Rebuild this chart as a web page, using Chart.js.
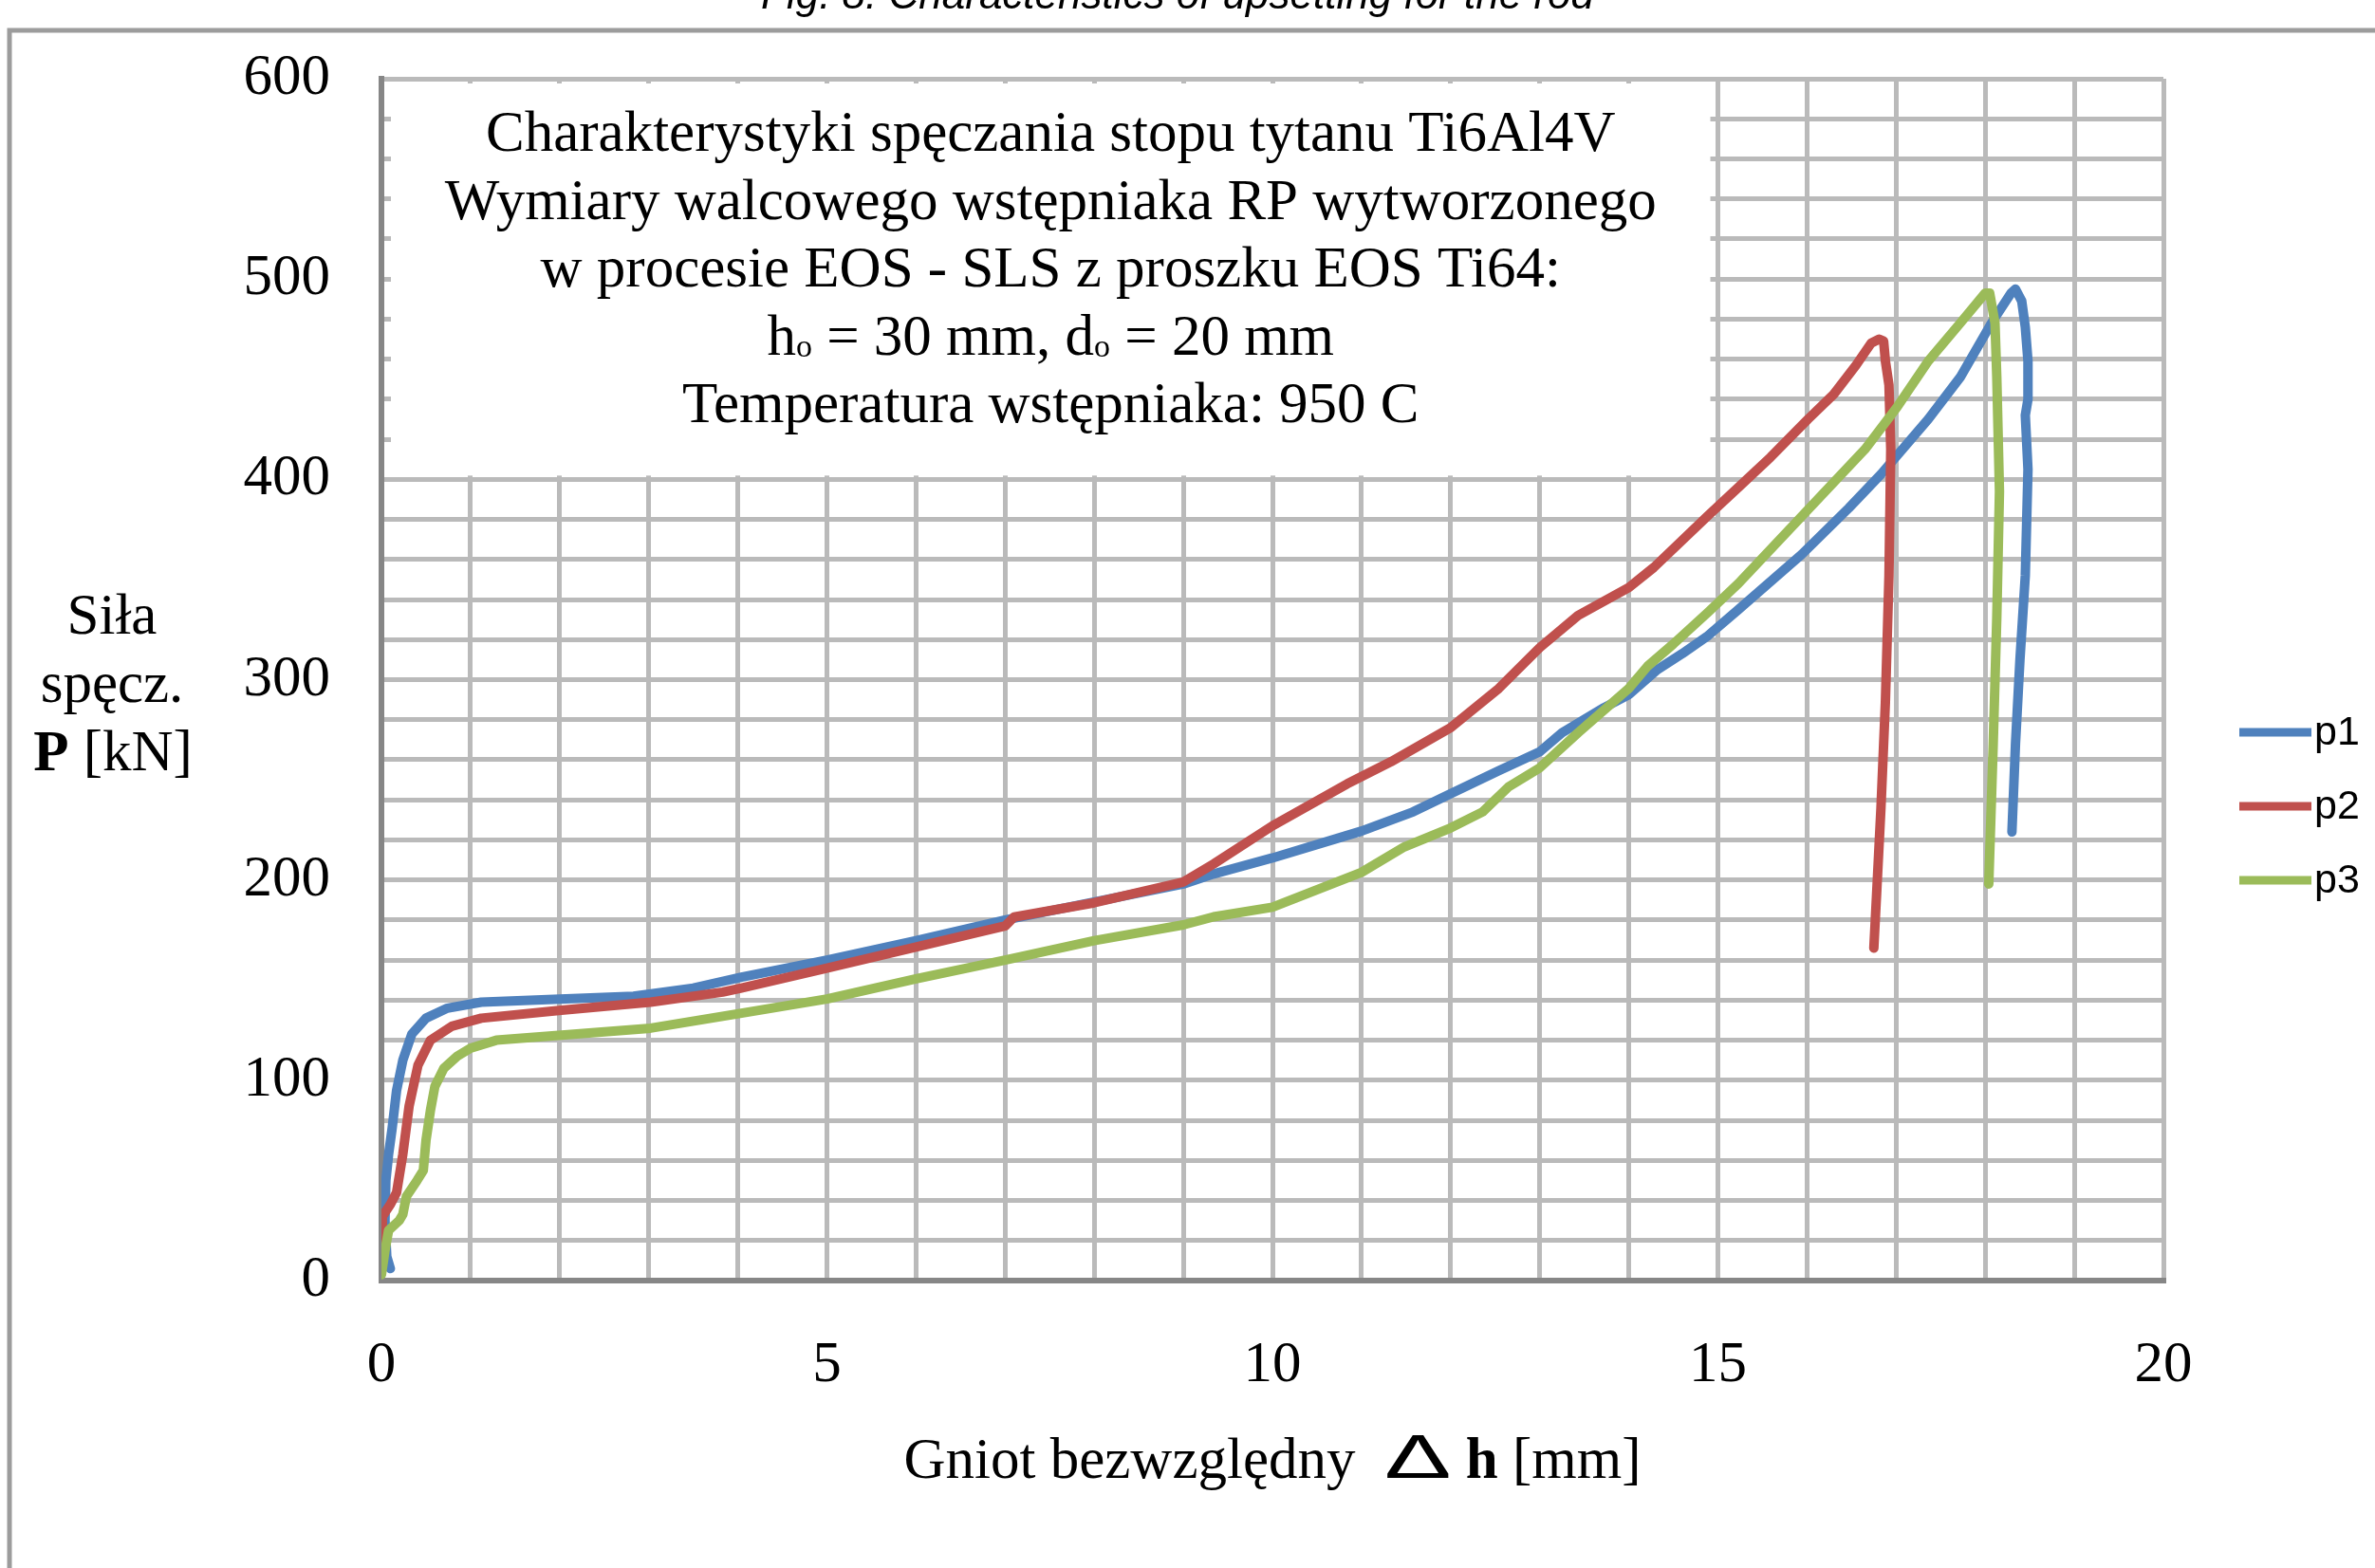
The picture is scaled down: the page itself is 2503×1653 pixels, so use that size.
<!DOCTYPE html>
<html>
<head>
<meta charset="utf-8">
<script src="https://cdn.jsdelivr.net/npm/chart.js@4.4.1/dist/chart.umd.min.js"></script>
<style>
  html, body { margin: 0; padding: 0; background: #fff; }
  #wrap { width: 2503px; height: 1653px; }
</style>
</head>
<body>
<div id="wrap"><canvas id="chart" width="2503" height="1653"></canvas></div>
<script>
// --- DONNÉES ---
// Gniot bezwzględny [mm] / Siła spęczania [kN]
const p1X = [0.10, 0.06, 0.04, 0.05, 0.08, 0.12, 0.17, 0.24, 0.34, 0.50, 0.74, 1.12, 2.00, 2.83, 3.50, 4.04, 5.00, 6.00, 7.00, 8.00,
             9.00, 9.34, 10.00, 11.00, 11.58, 12.00, 12.54, 13.00, 13.25, 13.72, 14.00, 14.32, 14.60, 14.89, 15.23, 15.94, 16.47, 16.83, 17.36, 17.72,
             18.07, 18.29, 18.34, 18.41, 18.45, 18.48, 18.48, 18.45, 18.48, 18.45, 18.39, 18.34, 18.30];
const p1Y = [6, 12, 30, 50, 63, 76, 95, 110, 123, 131, 136, 139, 140.5, 142, 146, 151.5, 160, 169.7, 180, 189,
             198, 203, 211, 224.4, 234, 243, 254.5, 264, 273.5, 286, 292.5, 305, 313, 322, 335, 362.5, 385.7, 402.5, 430, 451,
             478, 493, 495, 489, 476, 459, 440, 432, 405, 352, 310, 268, 224];

const p2X = [0.00, 0.01, 0.10, 0.17, 0.24, 0.31, 0.41, 0.55, 0.79, 1.12, 2.02, 3.02, 3.83, 4.04, 5.00, 6.00, 7.00, 7.10, 8.00, 9.00,
             9.34, 10.00, 10.84, 11.33, 12.00, 12.54, 13.00, 13.43, 14.00, 14.28, 14.88, 15.23, 15.59, 16.01, 16.30, 16.55, 16.72, 16.81, 16.86, 16.88,
             16.92, 16.94, 16.92, 16.88, 16.83, 16.78, 16.75];
const p2Y = [13, 32, 38, 44, 63, 87, 107.5, 120, 127, 131, 135, 139, 144, 146, 156, 166.5, 177, 181.5, 188.6, 199,
             208, 227, 248, 259, 276, 295.6, 316, 332, 346, 356, 381.5, 396, 411, 430, 442.5, 457, 468, 470, 469, 459,
             447, 415, 352, 289, 236, 192, 166];

const p3X = [0.00, 0.04, 0.08, 0.20, 0.24, 0.28, 0.40, 0.47, 0.50, 0.55, 0.60, 0.70, 0.85, 1.00, 1.29, 2.02, 3.02, 4.04, 5.00, 6.00,
             7.00, 8.00, 9.00, 9.34, 10.00, 11.00, 11.48, 12.00, 12.36, 12.65, 13.00, 13.43, 14.00, 14.21, 14.50, 14.89, 15.23, 15.94, 16.65, 17.01,
             17.36, 17.72, 18.00, 18.05, 18.11, 18.13, 18.16, 18.13, 18.09, 18.04];
const p3Y = [3, 15, 25, 30, 33, 42, 50, 55, 70, 85, 97, 106, 112, 116, 120, 122.5, 126, 133.5, 140.6, 150.7,
             160, 169.7, 177.6, 181.6, 186.4, 203.8, 216.5, 226, 234, 246.5, 256, 273.5, 295.6, 306.7, 317.8, 333.7, 348, 381.5, 415, 436,
             459, 478, 493, 493, 478, 451, 394, 331, 268, 198];

const SERIES_NAMES = ['p1', 'p2', 'p3'];
const SERIES_COLORS = ['#4f81bd', '#c0504d', '#9bbb59'];

// graduations : une ligne de grille tous les 1 mm / 20 kN, libellés seulement ici
const X_LABELS = [0, 5, 10, 15, 20];
const Y_LABELS = [0, 100, 200, 300, 400, 500, 600];

const CAPTION = 'Fig. 8. Characteristics of upsetting for the rod';
const BOX_LINES = [
    'Charakterystyki spęczania stopu tytanu Ti6Al4V',
    'Wymiary walcowego wstępniaka RP wytworzonego',
    'w procesie EOS - SLS z proszku EOS Ti64:',
    null, // h0 / d0, dessinée à part (indices)
    'Temperatura wstępniaka: 950 C'
];

const SERIF = '"Liberation Serif", "Times New Roman", serif';
const FS = 61;

// dessine une ligne faite de morceaux de polices différentes, centrée sur cx
function drawRuns(ctx, runs, cx, baseline) {
    let total = 0;
    runs.forEach(r => {
        ctx.font = r.f;
        r.w = ctx.measureText(r.t).width * (r.sx || 1);
        total += r.w;
    });
    let x = cx - total / 2;
    ctx.textAlign = 'left';
    ctx.textBaseline = 'alphabetic';
    runs.forEach(r => {
        ctx.font = r.f;
        ctx.save();
        ctx.translate(x, baseline + (r.dy || 0));
        ctx.scale(r.sx || 1, 1);
        ctx.fillText(r.t, 0, 0);
        ctx.restore();
        x += r.w;
    });
}

const decor = {
    id: 'decor',
    beforeDraw(chart) {
        const ctx = chart.ctx;
        ctx.save();
        ctx.fillStyle = '#fff';
        ctx.fillRect(0, 0, chart.width, chart.height);
        // cadre gris (haut et gauche)
        ctx.strokeStyle = '#9c9c9c';
        ctx.lineWidth = 5;
        ctx.beginPath();
        ctx.moveTo(chart.width + 5, 32);
        ctx.lineTo(10, 32);
        ctx.lineTo(10, chart.height + 5);
        ctx.stroke();
        // légende de la figure, coupée par le bord
        ctx.fillStyle = '#000';
        ctx.font = 'italic 44px "Liberation Sans", Arial, sans-serif';
        ctx.textAlign = 'center';
        ctx.textBaseline = 'alphabetic';
        ctx.fillText(CAPTION, 1241, 9);
        ctx.restore();
    },
    beforeDatasetsDraw(chart) {
        // cadre blanc du titre, posé sur la grille
        const ctx = chart.ctx;
        const a = chart.chartArea;
        const xs = chart.scales.x, ys = chart.scales.y;
        const left = a.left + 10, top = a.top + 5;
        const right = xs.getPixelForValue(15) - 8;
        const bottom = ys.getPixelForValue(400) - 4;
        ctx.save();
        ctx.fillStyle = '#fff';
        ctx.fillRect(left, top, right - left, bottom - top);
        ctx.fillStyle = '#000';
        const cx = (left + right) / 2;
        const base0 = top + 71, step = 71.5;
        BOX_LINES.forEach((line, i) => {
            const y = base0 + i * step;
            if (line) {
                drawRuns(ctx, [{ t: line, f: FS + 'px ' + SERIF }], cx, y);
            } else {
                const big = FS + 'px ' + SERIF, small = '34px ' + SERIF;
                drawRuns(ctx, [
                    { t: 'h', f: big }, { t: 'o', f: small, dy: 2 },
                    { t: ' = 30 mm, d', f: big }, { t: 'o', f: small, dy: 2 },
                    { t: ' = 20 mm', f: big }
                ], cx, y);
            }
        });
        ctx.restore();
    },
    afterDraw(chart) {
        const ctx = chart.ctx;
        const a = chart.chartArea;
        ctx.save();
        ctx.fillStyle = '#000';
        // titre de l'axe Y
        const big = FS + 'px ' + SERIF;
        drawRuns(ctx, [{ t: 'Siła', f: big }], 118, 668);
        drawRuns(ctx, [{ t: 'spęcz.', f: big }], 118, 740);
        drawRuns(ctx, [{ t: 'P', f: 'bold ' + big }, { t: ' [kN]', f: big }], 119, 812);
        // titre de l'axe X
        drawRuns(ctx, [
            { t: 'Gniot bezwzględny  ', f: big },
            { t: 'Δ', f: '64px "Liberation Sans", Arial, sans-serif', sx: 1.65 },
            { t: ' ', f: big },
            { t: 'h', f: 'bold ' + big },
            { t: ' [mm]', f: big }
        ], (a.left + a.right) / 2, 1558);
        // légende
        chart.data.datasets.forEach((ds, i) => {
            const y = 772 + i * 78;
            ctx.strokeStyle = ds.borderColor;
            ctx.lineWidth = 9;
            ctx.lineCap = 'butt';
            ctx.beginPath();
            ctx.moveTo(2360, y);
            ctx.lineTo(2436, y);
            ctx.stroke();
            ctx.fillStyle = '#000';
            ctx.font = '43px "Liberation Sans", Arial, sans-serif';
            ctx.textAlign = 'left';
            ctx.textBaseline = 'middle';
            ctx.fillText(ds.label, 2439, y + 1);
        });
        ctx.restore();
    }
};

function makeSeries(xs, ys) {
    return xs.map((x, i) => ({ x: x, y: ys[i] }));
}

const seriesData = [makeSeries(p1X, p1Y), makeSeries(p2X, p2Y), makeSeries(p3X, p3Y)];

const ctx = document.getElementById('chart').getContext('2d');
new Chart(ctx, {
    type: 'scatter',
    data: {
        datasets: seriesData.map((d, i) => ({
            label: SERIES_NAMES[i],
            data: d,
            showLine: true,
            borderColor: SERIES_COLORS[i],
            backgroundColor: SERIES_COLORS[i],
            borderWidth: 10,
            pointRadius: 0,
            tension: 0,
            borderJoinStyle: 'round',
            borderCapStyle: 'round',
            order: 3 - i // p3 dessinée par-dessus, comme dans Excel
        }))
    },
    options: {
        responsive: false,
        maintainAspectRatio: false,
        animation: false,
        layout: { padding: { top: 83, right: 223, left: 0, bottom: 0 } },
        plugins: {
            legend: { display: false },
            title: { display: false },
            tooltip: { enabled: false }
        },
        scales: {
            x: {
                type: 'linear',
                min: 0,
                max: 20,
                afterFit: s => { s.height = 303; },
                grid: { color: '#bababa', lineWidth: 5, drawTicks: false },
                border: { color: '#868686', width: 6 },
                ticks: {
                    stepSize: 1,
                    autoSkip: false,
                    maxRotation: 0,
                    padding: 53,
                    color: '#000',
                    font: { family: SERIF, size: FS },
                    callback: v => X_LABELS.includes(v) ? String(v) : ''
                }
            },
            y: {
                type: 'linear',
                min: 0,
                max: 600,
                afterFit: s => { s.width = 402; },
                // écart des libellés via des graduations invisibles (le padding décalerait le haut du graphique)
                grid: { color: '#bababa', lineWidth: 5, drawTicks: true, tickLength: 54, tickColor: 'rgba(0,0,0,0)' },
                border: { color: '#868686', width: 6 },
                ticks: {
                    stepSize: 20,
                    autoSkip: false,
                    padding: 0,
                    color: '#000',
                    font: { family: SERIF, size: FS },
                    callback: v => Y_LABELS.includes(v) ? String(v) : ''
                }
            }
        }
    },
    plugins: [decor]
});
</script>
</body>
</html>
